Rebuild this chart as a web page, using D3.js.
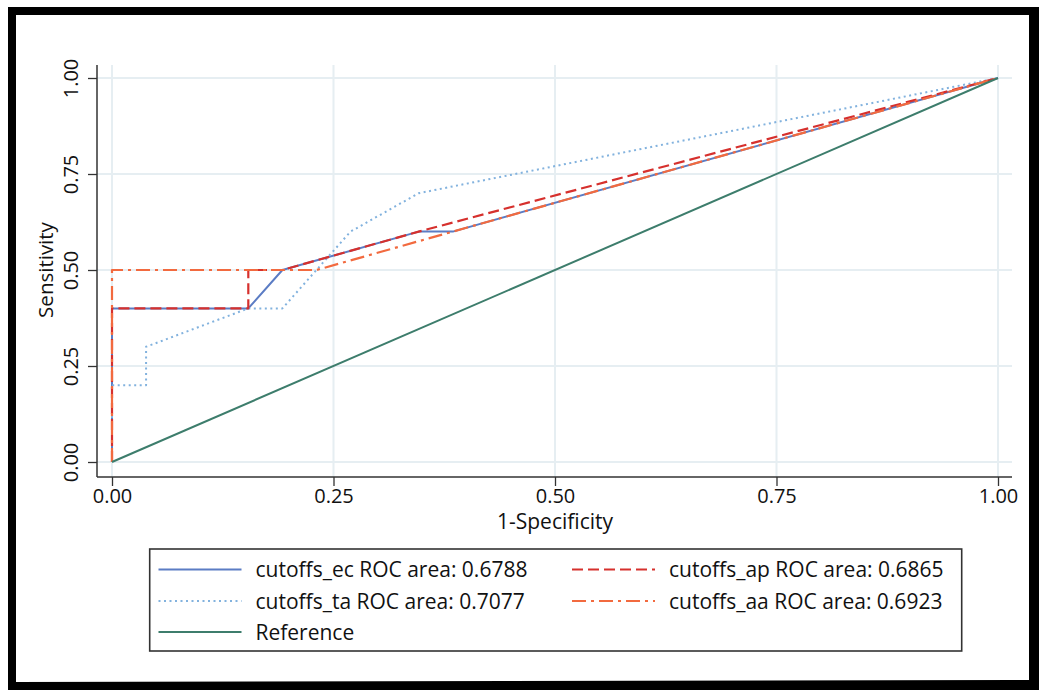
<!DOCTYPE html>
<html>
<head>
<meta charset="utf-8">
<script src="https://cdn.jsdelivr.net/npm/d3@7"></script>
<style>
html,body{margin:0;padding:0;background:#fff;}
svg{display:block;}
text{font-family:"Open Sans",sans-serif;fill:#111;}
</style>
</head>
<body>
<svg id="chart" width="1039" height="690"></svg>
<script>
// ---- data ----
const ticks = [0, 0.25, 0.5, 0.75, 1];
const ecX = [0, 0, 4/26, 5/26, 9/26, 10/26, 1];
const ecY = [0, 0.4, 0.4, 0.5, 0.6, 0.6, 1];
const taX = [0, 0, 1/26, 1/26, 4/26, 5/26, 6/26, 7/26, 8/26, 9/26, 1];
const taY = [0, 0.2, 0.2, 0.3, 0.4, 0.4, 0.5, 0.6, 0.65, 0.7, 1];
const apX = [0, 0, 4/26, 4/26, 5/26, 9/26, 1];
const apY = [0, 0.4, 0.4, 0.5, 0.5, 0.6, 1];
const aaX = [0, 0, 6/26, 1];
const aaY = [0, 0.5, 0.5, 1];
const refX = [0, 1];
const refY = [0, 1];
const seriesNames = ["cutoffs_ec", "cutoffs_ta", "cutoffs_ap", "cutoffs_aa", "Reference"];
const rocAreas = [0.6788, 0.7077, 0.6865, 0.6923, null];

// ---- styles ----
const styles = {
  cutoffs_ec: {color: "#5b7cc4", dash: null, w: 2},
  cutoffs_ta: {color: "#82b2de", dash: "2,3.5", w: 2},
  cutoffs_ap: {color: "#d6302d", dash: "11,5", w: 2.2},
  cutoffs_aa: {color: "#f26a3f", dash: "14,5,3,5", w: 2.2},
  Reference:  {color: "#3d7d6c", dash: null, w: 2}
};

const svg = d3.select("#chart");

// frame
svg.append("rect").attr("x",0).attr("y",0).attr("width",1039).attr("height",690).attr("fill","#fff");
svg.append("path")
  .attr("fill-rule","evenodd")
  .attr("fill","#000")
  .attr("d","M8,7 L1039,7 L1039,690 L8,690 Z M16,15 L1029,15 L1029,680 L16,682 Z");

const plot = {left: 97, right: 1012, top: 65, bottom: 477};
const x = d3.scaleLinear().domain([0,1]).range([112, 998]);
const y = d3.scaleLinear().domain([0,1]).range([462, 78]);

// gridlines
const grid = svg.append("g");
grid.selectAll("line.h").data(ticks).join("line")
  .attr("x1", plot.left).attr("x2", plot.right)
  .attr("y1", d => y(d)).attr("y2", d => y(d))
  .attr("stroke", "#e6eef2").attr("stroke-width", 2);
grid.selectAll("line.v").data(ticks).join("line")
  .attr("y1", plot.top).attr("y2", plot.bottom)
  .attr("x1", d => x(d)).attr("x2", d => x(d))
  .attr("stroke", "#e6eef2").attr("stroke-width", 2);

// axes
const yAxis = svg.append("g").attr("transform", `translate(${plot.left},0)`)
  .call(d3.axisLeft(y).tickValues(ticks).tickFormat(d3.format(".2f")).tickSize(9).tickPadding(0));
yAxis.select(".domain").remove();
yAxis.selectAll(".tick line").attr("stroke", "#333").attr("stroke-width", 1.3);
yAxis.selectAll(".tick text")
  .attr("x", null).attr("dy", null)
  .attr("text-anchor", "middle")
  .attr("transform", "translate(-26,0) rotate(-90)")
  .attr("dy", "0.35em")
  .style("font-family", '"Open Sans", sans-serif')
  .style("font-size", "20px").attr("fill", "#111");
svg.append("line").attr("x1", plot.left).attr("x2", plot.left)
  .attr("y1", plot.top).attr("y2", plot.bottom).attr("stroke", "#333").attr("stroke-width", 1.5);

const xAxis = svg.append("g").attr("transform", `translate(0,${plot.bottom})`)
  .call(d3.axisBottom(x).tickValues(ticks).tickFormat(d3.format(".2f")).tickSize(9).tickPadding(3));
xAxis.select(".domain").remove();
xAxis.selectAll(".tick line").attr("stroke", "#333").attr("stroke-width", 1.3);
xAxis.selectAll(".tick text")
  .style("font-family", '"Open Sans", sans-serif')
  .style("font-size", "20px").attr("fill", "#111");
svg.append("line").attr("x1", plot.left).attr("x2", plot.right)
  .attr("y1", plot.bottom).attr("y2", plot.bottom).attr("stroke", "#333").attr("stroke-width", 1.5);

// axis titles
svg.append("text").attr("transform", `translate(53,${(y(0)+y(1))/2}) rotate(-90)`)
  .attr("text-anchor", "middle").style("font-size", "20.5px").text("Sensitivity");
svg.append("text").attr("x", (x(0)+x(1))/2).attr("y", 529)
  .attr("text-anchor", "middle").style("font-size", "21px").text("1-Specificity");

// curves
const line = d3.line().x(d => x(d[0])).y(d => y(d[1]));
const seriesData = {
  cutoffs_ec: d3.zip(ecX, ecY),
  cutoffs_ta: d3.zip(taX, taY),
  cutoffs_ap: d3.zip(apX, apY),
  cutoffs_aa: d3.zip(aaX, aaY),
  Reference: d3.zip(refX, refY)
};
const drawOrder = ["cutoffs_ec", "cutoffs_ta", "cutoffs_ap", "cutoffs_aa", "Reference"];
drawOrder.forEach(name => {
  const s = styles[name];
  svg.append("path").datum(seriesData[name])
    .attr("d", line).attr("fill", "none")
    .attr("stroke", s.color).attr("stroke-width", s.w)
    .attr("stroke-dasharray", s.dash)
    .attr("stroke-linejoin", "round");
});

// legend
svg.append("rect").attr("x", 149.7).attr("y", 549).attr("width", 812).attr("height", 102)
  .attr("fill", "#fff").attr("stroke", "#333").attr("stroke-width", 1.6);
const legendPos = {
  cutoffs_ec: [158.5, 569.5],
  cutoffs_ap: [572, 569.5],
  cutoffs_ta: [158.5, 601],
  cutoffs_aa: [572, 601],
  Reference: [158.5, 632]
};
seriesNames.forEach((name, i) => {
  const s = styles[name];
  const [lx, ly] = legendPos[name];
  svg.append("line").attr("x1", lx).attr("x2", lx + 83).attr("y1", ly).attr("y2", ly)
    .attr("stroke", s.color).attr("stroke-width", s.w).attr("stroke-dasharray", s.dash);
  const label = rocAreas[i] == null ? name : `${name} ROC area: ${d3.format(".4f")(rocAreas[i])}`;
  svg.append("text").attr("x", lx + 97).attr("y", ly + 7.5)
    .style("font-size", "21px").text(label);
});
</script>
</body>
</html>
